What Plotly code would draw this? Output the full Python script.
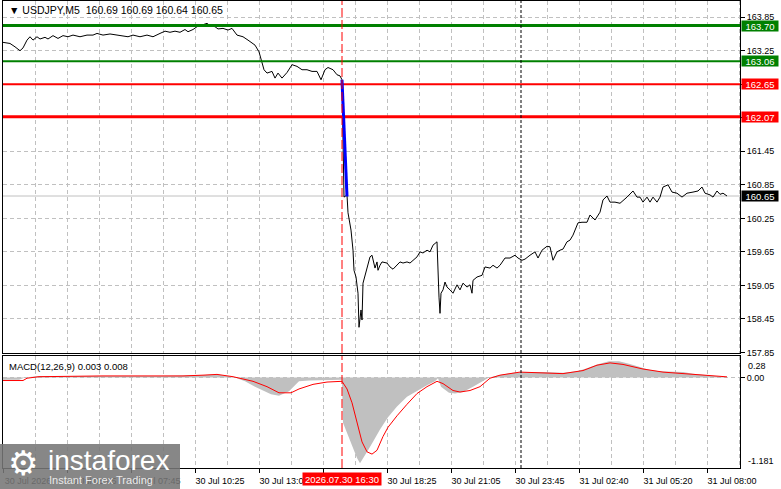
import plotly.graph_objects as go

# price closes (M5 bars, x = bar index from left edge)
price_bar = [0, 3.5, 6, 8.5, 10, 12, 13.5, 15, 17, 18.5, 21, 22.5, 25, 27.5, 30, 32.5, 35, 38.5, 42, 45,
             47, 50, 53.5, 57, 60, 62.5, 65, 68.5, 72, 75, 78.5, 81, 83.5, 86, 88.5, 91, 92.5, 95, 97, 99.5,
             102, 103.5, 106, 107.5, 110, 112.5, 114.5, 117, 120, 122.5, 126, 128, 129.5, 130.5, 132, 134.5,
             136, 137.5, 139.5, 142, 144.5, 147, 149.5, 152, 154.5, 157, 159, 161, 162.5, 165, 167, 168.5,
             169.5, 170.5, 172, 172.5, 174, 175, 175.5, 176.5, 177.5, 178, 179, 179.5, 180, 181, 182, 183.5,
             184.5, 185, 186, 187, 187.5, 188.5, 189.5, 192, 193.5, 195, 197, 198.5, 200, 202, 203.5, 205,
             207, 208.5, 210, 212, 213.5, 215, 217, 218, 218.5, 219, 220, 221, 222, 223.5, 225, 227, 228.5,
             230, 232, 233.5, 234.5, 235, 237, 239.5, 241, 243.5, 245, 247, 248.5, 251, 253.5, 256, 257.5,
             259.5, 261, 263.5, 266, 267.5, 269.5, 272, 273.5, 275, 277, 278.5, 280, 282, 283.5, 285, 287.5,
             289.5, 292, 293.5, 296, 298.5, 300, 302, 303.5, 306, 308.5, 312, 315, 317, 318.5, 320, 322,
             323.5, 325, 327, 328.5, 330, 332.5, 334.5, 337, 339.5, 342, 345, 347.5, 349.5, 351, 353.5, 355,
             357, 358.5, 360, 362]
price_close = [163.40, 163.38, 163.32, 163.25, 163.30, 163.44, 163.50, 163.44, 163.50, 163.46, 163.49, 163.46,
               163.52, 163.47, 163.52, 163.50, 163.53, 163.50, 163.53, 163.53, 163.56, 163.53, 163.55, 163.53,
               163.52, 163.50, 163.53, 163.50, 163.53, 163.50, 163.56, 163.60, 163.58, 163.60, 163.58, 163.63,
               163.59, 163.63, 163.68, 163.71, 163.74, 163.70, 163.68, 163.64, 163.65, 163.62, 163.65, 163.53,
               163.50, 163.44, 163.35, 163.23, 163.05, 162.91, 162.85, 162.88, 162.76, 162.85, 162.76, 162.86,
               163.00, 162.97, 162.91, 162.91, 162.88, 162.88, 162.73, 162.91, 162.95, 162.91, 162.82, 162.80,
               162.73, 160.63, 160.67, 160.35, 160.04, 159.68, 159.32, 159.20, 158.91, 158.30, 158.61, 158.43,
               159.09, 159.23, 159.38, 159.56, 159.59, 159.50, 159.36, 159.47, 159.32, 159.41, 159.47, 159.45,
               159.38, 159.34, 159.41, 159.47, 159.45, 159.47, 159.45, 159.50, 159.56, 159.65, 159.63, 159.68,
               159.65, 159.77, 159.83, 158.84, 158.55, 158.91, 158.97, 159.11, 159.02, 158.97, 158.91, 159.06,
               158.97, 159.09, 159.02, 159.06, 158.91, 159.14, 159.20, 159.23, 159.38, 159.36, 159.41, 159.36,
               159.41, 159.54, 159.54, 159.59, 159.54, 159.50, 159.52, 159.59, 159.65, 159.54, 159.68, 159.75,
               159.74, 159.50, 159.65, 159.68, 159.70, 159.83, 159.86, 159.95, 160.17, 160.18, 160.18, 160.31,
               160.22, 160.36, 160.58, 160.65, 160.54, 160.54, 160.52, 160.63, 160.74, 160.63, 160.63, 160.54,
               160.63, 160.54, 160.63, 160.54, 160.63, 160.81, 160.85, 160.72, 160.70, 160.63, 160.70, 160.72,
               160.74, 160.81, 160.70, 160.67, 160.63, 160.74, 160.68, 160.70, 160.65]

# MACD(12,26,9): main shown as histogram, signal as red line
hist_bar = [0, 8, 11, 18, 48, 78, 98, 107, 115, 121, 126, 131, 134, 138, 143, 146, 148, 153, 168, 169.5,
            170, 172, 174.5, 177, 178.5, 180, 182.5, 185, 188.5, 192.5, 197, 202, 207, 212, 216, 217.5,
            219, 223, 226, 230, 235, 240, 243, 248, 255, 260, 270, 280, 287, 292, 297, 303, 308, 313,
            318, 323, 328, 335, 340, 345, 350, 356, 362]
hist_vals = [-0.03, -0.03, 0.0, 0.02, 0.02, 0.02, 0.03, 0.04, 0.01, -0.05, -0.12, -0.18, -0.22, -0.24,
             -0.18, -0.10, -0.05, -0.04, -0.03, -0.03, -0.59, -0.72, -0.90, -1.05, -1.12, -1.05, -0.95,
             -0.84, -0.68, -0.52, -0.38, -0.25, -0.17, -0.10, -0.05, -0.01, -0.12, -0.20, -0.21, -0.19,
             -0.12, -0.05, 0.0, 0.03, 0.06, 0.07, 0.07, 0.06, 0.08, 0.12, 0.17, 0.21, 0.21, 0.18, 0.14,
             0.10, 0.08, 0.07, 0.07, 0.05, 0.04, 0.02, 0.003]
sig_bar = [0, 10, 12, 18, 50, 90, 100, 107, 115, 125, 132, 138, 144, 148, 155, 162, 169.5, 172, 174.5,
           177, 179.5, 182, 184.5, 187, 190, 192.5, 197, 202, 207, 212, 217, 220, 225, 228.5, 233.5,
           238.5, 243.5, 248.5, 258.5, 280, 290, 297, 303.5, 310, 320, 330, 340, 352, 362]
sig_vals = [-0.04, -0.04, -0.01, 0.01, 0.02, 0.02, 0.03, 0.04, 0.01, -0.05, -0.12, -0.20, -0.20, -0.15,
            -0.09, -0.06, -0.05, -0.15, -0.33, -0.59, -0.84, -0.97, -1.00, -0.95, -0.77, -0.65, -0.50,
            -0.35, -0.21, -0.12, -0.05, -0.08, -0.17, -0.19, -0.17, -0.12, -0.01, 0.03, 0.07, 0.05,
            0.09, 0.16, 0.19, 0.17, 0.11, 0.07, 0.05, 0.03, 0.008]

# levels and the drawn signal
levels = [163.70, 163.06, 162.65, 162.07]
level_colors = ["#008000", "#008000", "#ff0000", "#ff0000"]
level_widths = [3, 2, 2, 3]
arrow_bar = [169.5, 172]
arrow_price = [162.73, 160.64]
last_price = 160.65
event_bar = 169.5
event_label = "2026.07.30 16:30"
day_sep_bar = 259

label_bars = [0, 32, 64, 96, 128, 160, 192, 224, 256, 288, 320, 352]
label_text = ["30 Jul 2026", "30 Jul 05:05", "30 Jul 07:45", "30 Jul 10:25", "30 Jul 13:05", "",
              "30 Jul 18:25", "30 Jul 21:05", "30 Jul 23:45", "31 Jul 02:40", "31 Jul 05:20", "31 Jul 08:00"]
price_ticks = [157.85, 158.45, 159.05, 159.65, 160.25, 160.85, 161.45, 162.05, 162.65, 163.25, 163.85]
price_tick_text = ["157.85", "158.45", "159.05", "159.65", "160.25", "160.85", "161.45", "", "", "163.25", "163.85"]

W, H = 781, 489
FONT = "Liberation Sans"
grid = dict(showgrid=True, gridcolor="#c0c0c0", griddash="4px,3px", gridwidth=1)
xdom = [3 / W, 740 / W]

fig = go.Figure()
fig.add_trace(go.Scatter(x=hist_bar, y=hist_vals, mode="lines", fill="tozeroy", fillcolor="#c0c0c0",
                         line=dict(width=0, color="#c0c0c0"), xaxis="x2", yaxis="y2"))
fig.add_trace(go.Scatter(x=sig_bar, y=sig_vals, mode="lines", line=dict(color="#ff0000", width=1),
                         xaxis="x2", yaxis="y2"))
fig.add_trace(go.Scatter(x=price_bar, y=price_close, mode="lines", line=dict(color="black", width=1)))

# current price line
fig.add_shape(type="line", xref="x domain", x0=0, x1=1, yref="y", y0=last_price, y1=last_price,
              line=dict(color="#c0c0c0", width=1), layer="below")
for lv, c, w in zip(levels, level_colors, level_widths):
    fig.add_shape(type="line", xref="x domain", x0=0, x1=1, yref="y", y0=lv, y1=lv,
                  line=dict(color=c, width=w))
fig.add_shape(type="line", xref="x", yref="y", x0=arrow_bar[0], x1=arrow_bar[1],
              y0=arrow_price[0], y1=arrow_price[1], line=dict(color="#0000ff", width=3))
for xr, yr in [("x", "y domain"), ("x2", "y2 domain")]:
    fig.add_shape(type="line", xref=xr, yref=yr, x0=event_bar, x1=event_bar, y0=0, y1=1,
                  line=dict(color="#ff0000", width=1, dash="9px,3px"))
    fig.add_shape(type="line", xref=xr, yref=yr, x0=day_sep_bar, x1=day_sep_bar, y0=0, y1=1,
                  line=dict(color="black", width=1, dash="3px,2px"))

# watermark
fig.add_shape(type="rect", xref="paper", yref="paper", x0=0, x1=180 / W, y0=0, y1=45 / H,
              fillcolor="rgba(118,118,118,0.88)", line=dict(width=0))

ann = []
ann.append(dict(x=7 / W, y=1 - 10 / H, xref="paper", yref="paper", xanchor="left", yanchor="middle",
                text="▼ USDJPY,M5  160.69 160.69 160.64 160.65", showarrow=False,
                font=dict(family=FONT, size=10.5, color="black")))
ann.append(dict(x=7 / W, y=1 - 366 / H, xref="paper", yref="paper", xanchor="left", yanchor="middle",
                text="MACD(12,26,9) 0.003 0.008", showarrow=False,
                font=dict(family=FONT, size=9.5, color="black")))
for lv, c in zip(levels + [last_price], level_colors + ["black"]):
    ann.append(dict(x=1, xref="x domain", y=lv, yref="y", xanchor="left", xshift=1, text=f"{lv:.2f}",
                    showarrow=False, bgcolor=c, width=36, height=10, borderpad=0,
                    font=dict(family=FONT, size=9.5, color="white")))
ann.append(dict(x=1, xref="x2 domain", y=1, yref="y2 domain", xanchor="left", yanchor="top", xshift=6,
                yshift=-3, text="0.28", showarrow=False, font=dict(family=FONT, size=9, color="black")))
ann.append(dict(x=1, xref="x2 domain", y=0, yref="y2 domain", xanchor="left", yanchor="bottom", xshift=6,
                yshift=0, text="-1.181", showarrow=False, font=dict(family=FONT, size=9, color="black")))
ann.append(dict(x=event_bar, xref="x2", y=(H - 478.5) / H, yref="paper", xanchor="center", yanchor="middle",
                text=event_label, showarrow=False, bgcolor="#ff0000", width=78, height=12, borderpad=0,
                font=dict(family=FONT, size=9.5, color="white")))
ann.append(dict(x=6 / W, y=(H - 463) / H, xref="paper", yref="paper", xanchor="left", yanchor="middle",
                text="⚙", showarrow=False, font=dict(family="DejaVu Sans", size=34, color="white")))
ann.append(dict(x=46 / W, y=(H - 460) / H, xref="paper", yref="paper", xanchor="left", yanchor="middle",
                text="instaforex", showarrow=False, font=dict(family=FONT, size=28, color="white")))
ann.append(dict(x=47 / W, y=(H - 480) / H, xref="paper", yref="paper", xanchor="left", yanchor="middle",
                text="Instant Forex Trading", showarrow=False,
                font=dict(family=FONT, size=11, color="rgba(255,255,255,0.85)")))

fig.update_layout(
    width=W, height=H, margin=dict(l=0, r=0, t=0, b=0),
    paper_bgcolor="white", plot_bgcolor="white", showlegend=False, template="none",
    annotations=ann,
    xaxis=dict(domain=xdom, range=[0, 368.5], anchor="y", matches="x2", showticklabels=False,
               tickvals=label_bars, ticks="", showline=True, mirror=True, linecolor="black", linewidth=1,
               zeroline=False, minor=dict(dtick=16, tick0=0, **grid), **grid),
    yaxis=dict(domain=[1 - 353 / H, 1 - 1 / H], range=[157.84, 164.14], side="right",
               tickvals=price_ticks, ticktext=price_tick_text, ticks="outside", ticklen=4,
               tickcolor="black", showline=True, mirror=True, linecolor="black", zeroline=False,
               tickfont=dict(family=FONT, size=9, color="black"), **grid),
    xaxis2=dict(domain=xdom, range=[0, 368.5], anchor="y2", tickvals=label_bars, ticktext=label_text,
                ticks="outside", ticklen=4, tickcolor="black", ticklabelshift=25,
                showline=True, mirror=True, linecolor="black", zeroline=False,
                tickfont=dict(family=FONT, size=9, color="black"),
                minor=dict(dtick=16, tick0=0, **grid), **grid),
    yaxis2=dict(domain=[1 - 468 / H, 1 - 356 / H], range=[-1.181, 0.28], side="right",
                tickvals=[0.0], ticktext=["0.00"], ticks="outside", ticklen=4, tickcolor="black",
                showline=True, mirror=True, linecolor="black", zeroline=False,
                tickfont=dict(family=FONT, size=9, color="black"), **grid),
)

fig.write_html("out.html", config={"displayModeBar": False},
               post_script="document.body.style.margin='0';")
